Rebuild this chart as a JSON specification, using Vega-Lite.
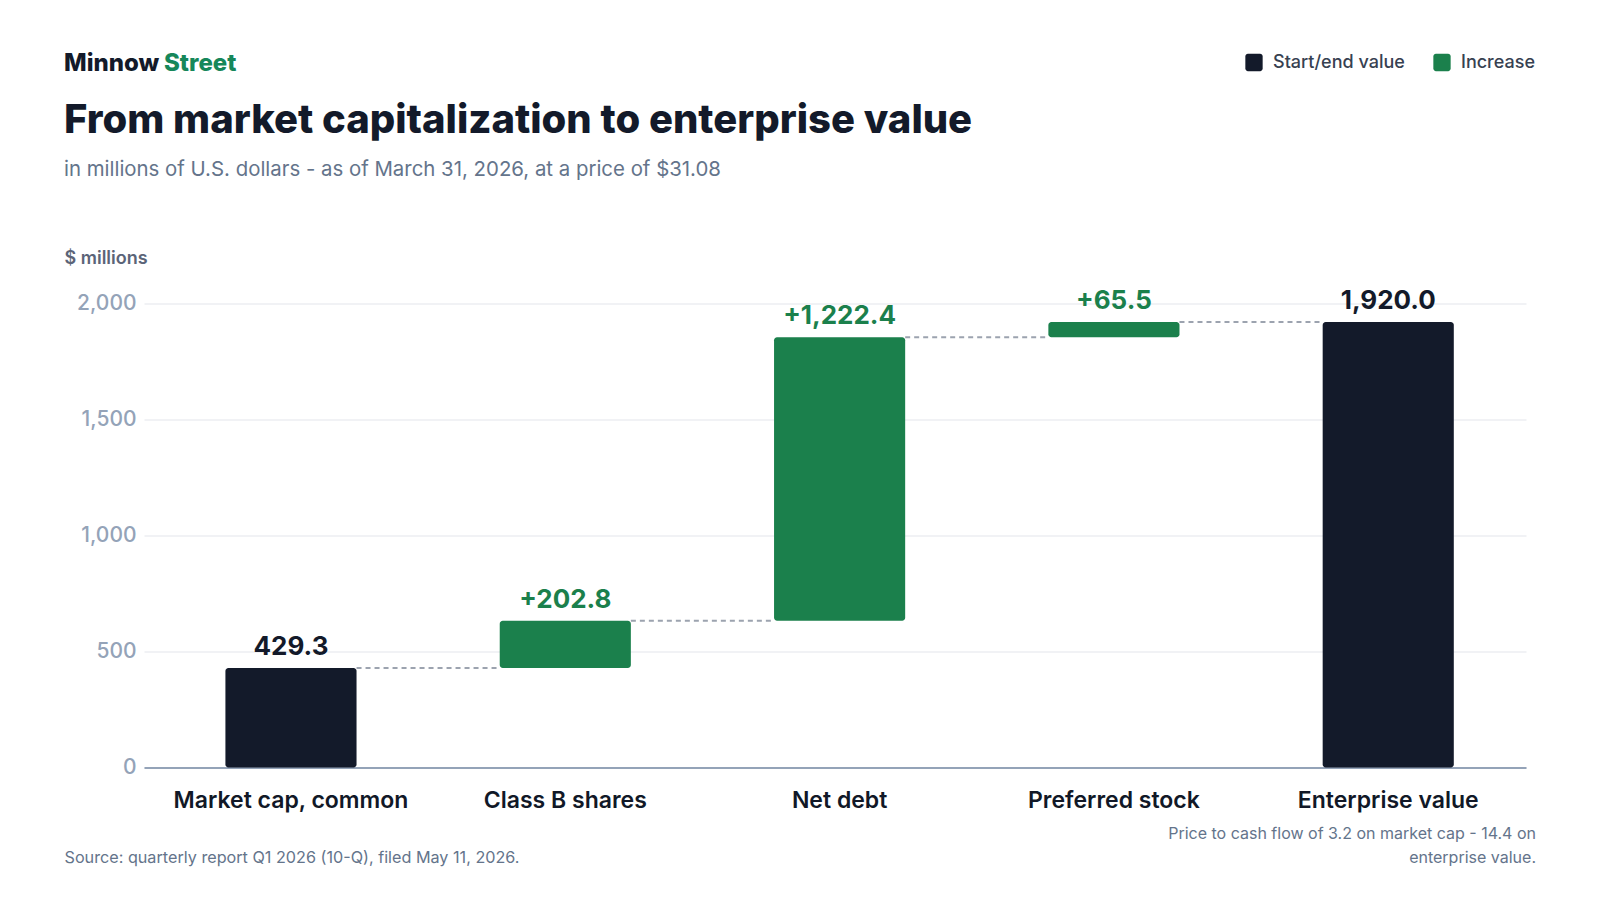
{
  "$schema": "https://vega.github.io/schema/vega-lite/v6.json",
  "autosize": {"type": "none"},
  "width": 1382,
  "height": 464,
  "padding": {"left": 144, "top": 303.5, "right": 74, "bottom": 132.5},
  "background": "#ffffff",
  "config": {
    "font": "Inter",
    "view": {"stroke": null},
    "text": {"font": "Inter"}
  },
  "datasets": {
    "steps": [
      {"step": "Market cap, common", "start": 0, "end": 429.3, "kind": "Start/end value", "label": "429.3"},
      {"step": "Class B shares", "start": 429.3, "end": 632.1, "kind": "Increase", "label": "+202.8"},
      {"step": "Net debt", "start": 632.1, "end": 1854.5, "kind": "Increase", "label": "+1,222.4"},
      {"step": "Preferred stock", "start": 1854.5, "end": 1920.0, "kind": "Increase", "label": "+65.5"},
      {"step": "Enterprise value", "start": 0, "end": 1920.0, "kind": "Start/end value", "label": "1,920.0"}
    ],
    "links": [
      {"from": "Market cap, common", "to": "Class B shares", "level": 429.3},
      {"from": "Class B shares", "to": "Net debt", "level": 632.1},
      {"from": "Net debt", "to": "Preferred stock", "level": 1854.5},
      {"from": "Preferred stock", "to": "Enterprise value", "level": 1920.0}
    ]
  },
  "layer": [
    {
      "data": {"name": "steps"},
      "mark": {"type": "bar", "cornerRadius": 3},
      "encoding": {
        "x": {
          "field": "step", "type": "nominal", "sort": null,
          "scale": {
            "domain": ["Market cap, common", "Class B shares", "Net debt", "Preferred stock", "Enterprise value"],
            "paddingInner": 0.522, "paddingOuter": 0.28, "align": 0.53
          },
          "axis": {
            "bandPosition": 0.5,
            "labelAngle": 0, "labelFont": "Inter", "labelFontSize": 23, "labelFontWeight": 600,
            "labelColor": "#111827", "labelPadding": 33, "labelLimit": 400, "ticks": false,
            "labelAlign": "center", "labelBaseline": "middle",
            "domainColor": "#94a3b8", "domainWidth": 2,
            "title": "Source: quarterly report Q1 2026 (10-Q), filed May 11, 2026.",
            "titleFont": "Inter", "titleFontSize": 16.2, "titleFontWeight": 400, "titleColor": "#64748b",
            "titleX": -80, "titleY": 89.5, "titleAlign": "left", "titleBaseline": "middle", "titleAnchor": "start"
          }
        },
        "y": {
          "field": "start", "type": "quantitative",
          "scale": {"domain": [0, 2000], "nice": false},
          "axis": {
            "values": [0, 500, 1000, 1500, 2000], "format": ",.0f",
            "labelFont": "Inter", "labelFontSize": 21, "labelFontWeight": 500, "labelColor": "#94a3b8", "labelPadding": 8,
            "ticks": false, "domain": false, "gridColor": "#eceef2", "gridWidth": 1.5,
            "title": "$ millions", "titleFont": "Inter", "titleFontSize": 18, "titleFontWeight": 600,
            "titleColor": "#5b6478", "titleAngle": 0, "titleX": -80, "titleY": -45.5,
            "titleAlign": "left", "titleBaseline": "middle"
          }
        },
        "y2": {"field": "end"},
        "color": {
          "field": "kind", "type": "nominal",
          "scale": {"domain": ["Start/end value", "Increase"], "range": ["#131a2a", "#1b804c"]},
          "legend": {
            "title": null, "orient": "none", "direction": "horizontal",
            "legendX": 1101, "legendY": -250,
            "symbolType": "M-0.7,-1H0.7A0.3,0.3 0 0 1 1,-0.7V0.7A0.3,0.3 0 0 1 0.7,1H-0.7A0.3,0.3 0 0 1 -1,0.7V-0.7A0.3,0.3 0 0 1 -0.7,-1Z",
            "symbolSize": 300, "symbolStrokeWidth": 0, "symbolOpacity": 1,
            "labelFont": "Inter", "labelFontSize": 18, "labelFontWeight": 500, "labelColor": "#374151",
            "labelOffset": 10, "columnPadding": 28
          }
        }
      }
    },
    {
      "data": {"name": "links"},
      "mark": {"type": "rule", "stroke": "#9ca3af", "strokeWidth": 2, "strokeDash": [5, 4]},
      "encoding": {
        "x": {"field": "from", "type": "nominal", "bandPosition": 1},
        "x2": {"field": "to", "bandPosition": 0},
        "y": {"field": "level", "type": "quantitative"}
      }
    },
    {
      "data": {"name": "steps"},
      "mark": {"type": "text", "baseline": "alphabetic", "dy": -13, "fontSize": 26, "fontWeight": 700, "font": "Inter"},
      "encoding": {
        "x": {"field": "step", "type": "nominal", "sort": null},
        "y": {"field": "end", "type": "quantitative"},
        "text": {"field": "label"},
        "color": {"field": "kind", "type": "nominal", "legend": null}
      }
    },
    {
      "data": {"values": [{"t": "Minnow"}]},
      "mark": {"type": "text", "align": "left", "baseline": "middle", "fontSize": 24, "fontWeight": 800, "color": "#131a2a", "font": "Inter"},
      "encoding": {"x": {"value": -80}, "y": {"value": -239.5}, "text": {"field": "t"}}
    },
    {
      "data": {"values": [{"t": "Street"}]},
      "mark": {"type": "text", "align": "left", "baseline": "middle", "fontSize": 24, "fontWeight": 800, "color": "#16875a", "font": "Inter"},
      "encoding": {"x": {"value": 20}, "y": {"value": -239.5}, "text": {"field": "t"}}
    },
    {
      "data": {"values": [{"t": "From market capitalization to enterprise value"}]},
      "mark": {"type": "text", "align": "left", "baseline": "middle", "fontSize": 40, "fontWeight": 800, "color": "#131a2a", "font": "Inter"},
      "encoding": {"x": {"value": -80}, "y": {"value": -182.5}, "text": {"field": "t"}}
    },
    {
      "data": {"values": [{"t": "in millions of U.S. dollars - as of March 31, 2026, at a price of $31.08"}]},
      "mark": {"type": "text", "align": "left", "baseline": "middle", "fontSize": 20.4, "fontWeight": 400, "color": "#64748b", "font": "Inter"},
      "encoding": {"x": {"value": -80}, "y": {"value": -133.5}, "text": {"field": "t"}}
    },
    {
      "data": {"values": [{"t": "Price to cash flow of 3.2 on market cap - 14.4 on\nenterprise value."}]},
      "mark": {"type": "text", "align": "right", "baseline": "middle", "fontSize": 16, "fontWeight": 400, "color": "#64748b", "font": "Inter", "lineBreak": "\n", "lineHeight": 24},
      "encoding": {"x": {"value": 1392}, "y": {"value": 530}, "text": {"field": "t"}}
    }
  ]
}
